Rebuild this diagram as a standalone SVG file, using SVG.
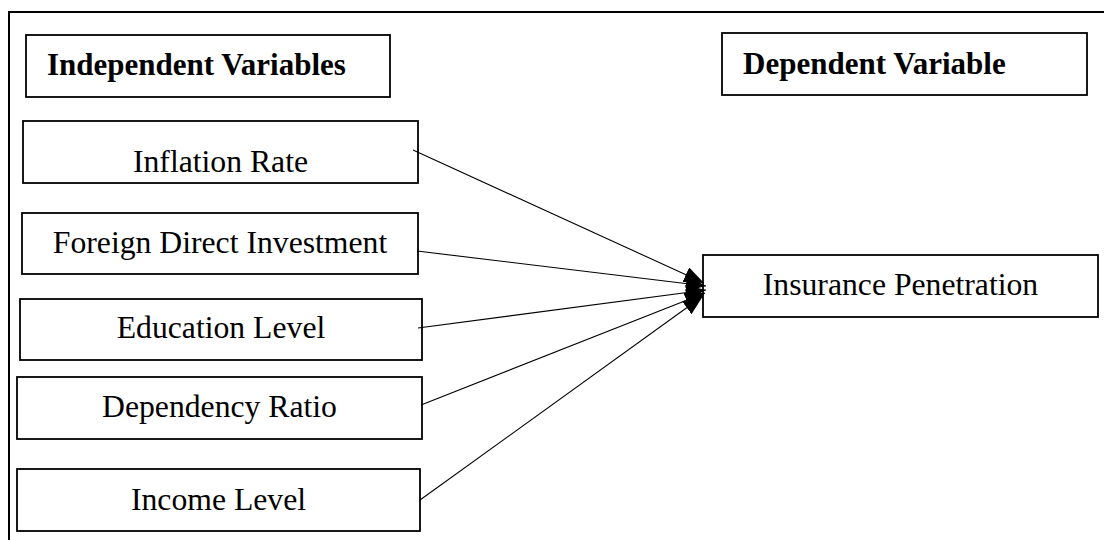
<svg xmlns="http://www.w3.org/2000/svg" width="1104" height="540" viewBox="0 0 1104 540">
<style>
.box{fill:#fff;stroke:#000;stroke-width:1.8}
.t{font-family:"Liberation Serif","Times New Roman",serif;font-size:31.7px;fill:#000;text-anchor:middle}
.h{font-family:"Liberation Serif","Times New Roman",serif;font-size:31px;font-weight:bold;fill:#000}
.c{stroke:#000;stroke-width:1.1;fill:none;marker-end:url(#ah)}
</style>
<defs>
<marker id="ah" markerUnits="userSpaceOnUse" markerWidth="21" markerHeight="17" refX="20" refY="8" orient="auto">
<path d="M0,0 L20,8 L0,16 z" fill="#000"/>
</marker>
</defs>
<rect width="1104" height="540" fill="#fff"/>
<rect x="9" y="12" width="1110" height="545" fill="none" stroke="#000" stroke-width="2"/>
<g id="hdr-independent"><rect class="box" x="26" y="35" width="364" height="62"/><text class="h" x="47" y="75">Independent Variables</text></g>
<g id="hdr-dependent"><rect class="box" x="722" y="33" width="365" height="62"/><text class="h" x="743" y="74">Dependent Variable</text></g>
<g id="n-inflation"><rect class="box" x="23" y="121" width="395" height="62"/><text class="t" x="220.5" y="172">Inflation Rate</text></g>
<g id="n-fdi"><rect class="box" x="22" y="213" width="396" height="61"/><text class="t" x="220" y="253">Foreign Direct Investment</text></g>
<g id="n-education"><rect class="box" x="20" y="299" width="402" height="61"/><text class="t" x="221" y="338">Education Level</text></g>
<g id="n-dependency"><rect class="box" x="17" y="377" width="405" height="62"/><text class="t" x="219.5" y="417">Dependency Ratio</text></g>
<g id="n-income"><rect class="box" x="17" y="469" width="403" height="62"/><text class="t" x="218.5" y="510">Income Level</text></g>
<g id="n-penetration"><rect class="box" x="703" y="255" width="395" height="62"/><text class="t" x="900.5" y="295">Insurance Penetration</text></g>
<g id="connectors">
<line class="c" x1="413" y1="150" x2="704" y2="283"/>
<line class="c" x1="417" y1="251" x2="706" y2="286"/>
<line class="c" x1="418" y1="328" x2="706" y2="290"/>
<line class="c" x1="421" y1="405" x2="705" y2="293"/>
<line class="c" x1="420" y1="500" x2="703" y2="296"/>
</g>
</svg>
